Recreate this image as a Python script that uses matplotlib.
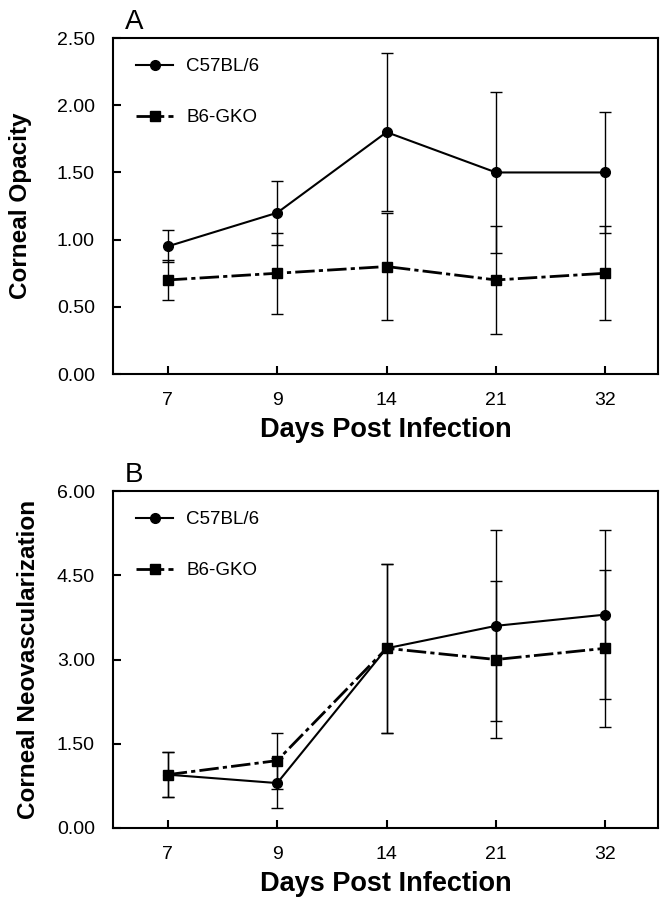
import matplotlib
matplotlib.use("Agg")
import matplotlib.pyplot as plt

plt.rcParams['font.family'] = ['Liberation Sans', 'DejaVu Sans']
plt.rcParams['lines.scale_dashes'] = False

days = ['7', '9', '14', '21', '32']

# panel A - corneal opacity
opacity_b6 = [0.95, 1.20, 1.80, 1.50, 1.50]
opacity_b6_err = [0.12, 0.24, 0.59, 0.60, 0.45]
opacity_gko = [0.70, 0.75, 0.80, 0.70, 0.75]
opacity_gko_err = [0.15, 0.30, 0.40, 0.40, 0.35]

# panel B - corneal neovascularization
neo_b6 = [0.95, 0.80, 3.20, 3.60, 3.80]
neo_b6_err = [0.40, 0.45, 1.50, 1.70, 1.50]
neo_gko = [0.95, 1.20, 3.20, 3.00, 3.20]
neo_gko_err = [0.40, 0.50, 1.50, 1.40, 1.40]

fig = plt.figure(figsize=(6.62, 9), dpi=100)
axA = fig.add_axes([0.1707, 0.5844, 0.8233, 0.3733])
axB = fig.add_axes([0.1707, 0.0800, 0.8233, 0.3744])

gko_dash = (0, (14, 3, 3, 3))


def draw(ax, b6, b6e, gko, gkoe, ymax, step, ylabel, letter, ylab_x):
    x = list(range(len(days)))
    # error bars first, lines and markers on top
    ax.errorbar(x, b6, yerr=b6e, fmt='none', ecolor='black', elinewidth=1,
                capsize=4, capthick=1, zorder=2)
    ax.errorbar(x, gko, yerr=gkoe, fmt='none', ecolor='black', elinewidth=1,
                capsize=4, capthick=1, zorder=2)
    ax.plot(x, b6, color='black', linewidth=1.5, marker='o', markersize=7,
            label='C57BL/6', zorder=3)
    ax.plot(x, gko, color='black', linewidth=2, linestyle=gko_dash,
            marker='s', markersize=7, label='B6-GKO', zorder=3)
    ax.set_xlim(-0.5, 4.48)
    ax.set_ylim(0, ymax)
    ax.set_xticks(x)
    ax.set_xticklabels(days)
    ticks = [i * step for i in range(int(round(ymax / step)) + 1)]
    ax.set_yticks(ticks)
    ax.set_yticklabels(['%.2f' % t for t in ticks])
    ax.tick_params(direction='in', length=6, width=1.5, labelsize=14, pad=13)
    for s in ax.spines.values():
        s.set_linewidth(1.5)
    ax.set_xlabel('Days Post Infection', fontsize=19.5, fontweight='bold',
                  labelpad=6)
    ax.set_ylabel(ylabel, fontsize=17.5, fontweight='bold')
    ax.yaxis.set_label_coords(ylab_x, 0.5)
    ax.text(0.022, 1.01, letter, transform=ax.transAxes, fontsize=20,
            ha='left', va='bottom')
    ax.legend(loc='upper left', frameon=False, fontsize=13.5,
              handlelength=1.95, handletextpad=0.7, labelspacing=1.8,
              borderaxespad=0.5, bbox_to_anchor=(0.012, 0.99))


draw(axA, opacity_b6, opacity_b6_err, opacity_gko, opacity_gko_err,
     2.5, 0.5, 'Corneal Opacity', 'A', -0.149)
draw(axB, neo_b6, neo_b6_err, neo_gko, neo_gko_err,
     6.0, 1.5, 'Corneal Neovascularization', 'B', -0.134)

fig.savefig('out.png', dpi=100)
